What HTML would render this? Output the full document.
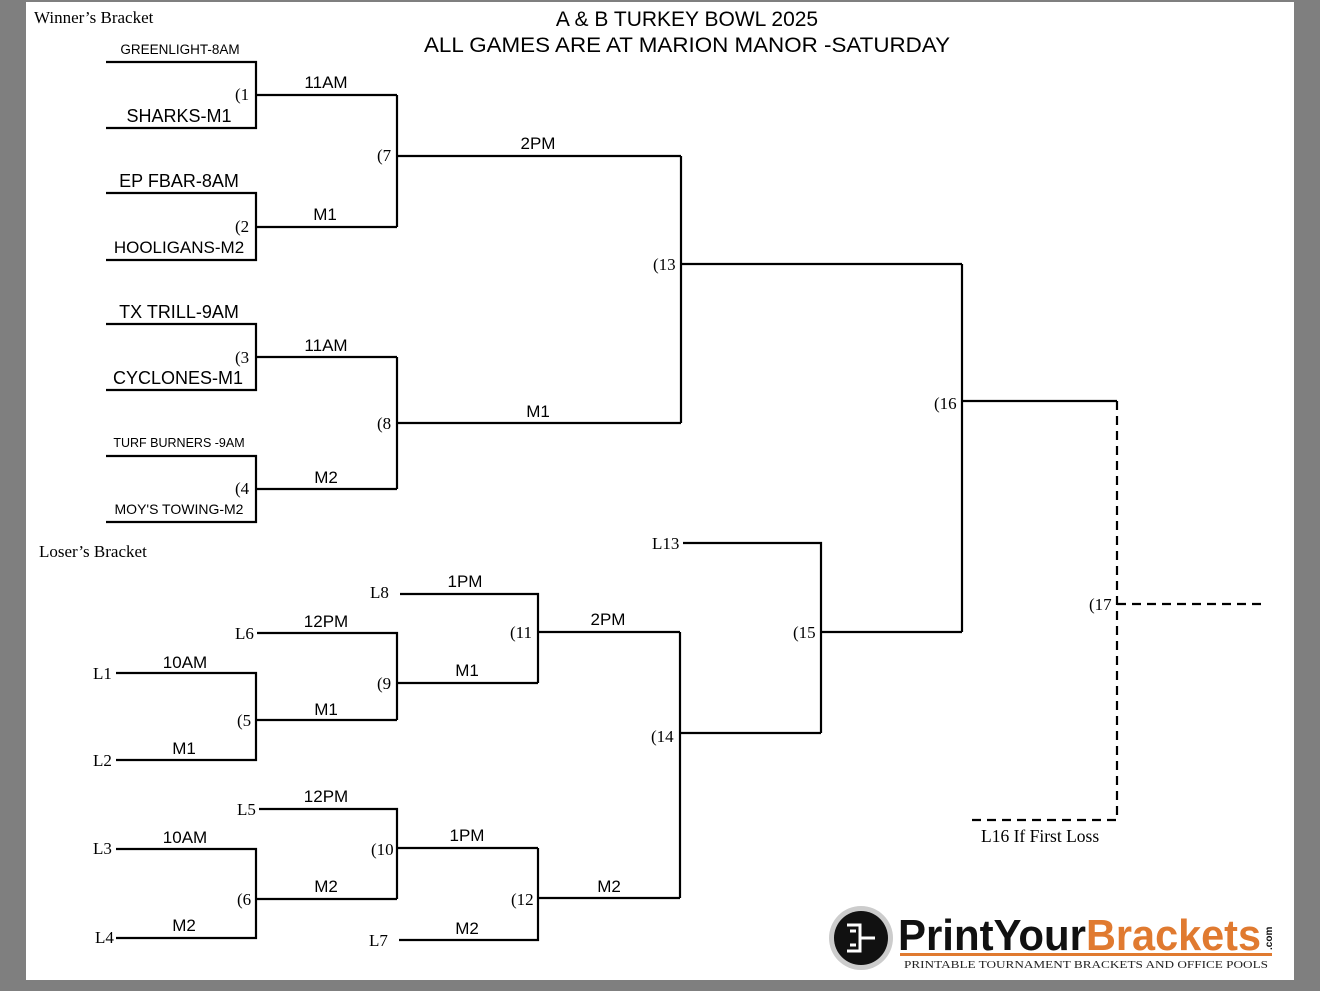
<!DOCTYPE html>
<html><head><meta charset="utf-8"><style>
html,body{margin:0;padding:0;background:#7f7f7f;}
svg{display:block}
.s{font-family:"Liberation Sans",sans-serif;fill:#000}
.r{font-family:"Liberation Serif",serif;fill:#000;font-size:17px}
</style></head><body>
<svg width="1320" height="991" viewBox="0 0 1320 991">
<rect x="0" y="0" width="1320" height="991" fill="#7f7f7f"/>
<rect x="26" y="2" width="1268" height="978" fill="#fff"/>
<g stroke="#000" stroke-width="2.2" fill="none">
<path d="M106 62H256V128H106M256 95H397"/>
<path d="M106 193H256V260H106M256 227H397"/>
<path d="M397 95V227M397 156H681"/>
<path d="M106 324H256V390H106M256 357H397"/>
<path d="M106 456H256V522H106M256 489H397"/>
<path d="M397 357V489M397 423H681"/>
<path d="M681 156V423M681 264H962"/>
<path d="M683 543H821V733M821 632H962"/>
<path d="M962 264V632M962 401H1117"/>
<path d="M116 673H256V760H116M256 720H397"/>
<path d="M257 633H397V720M397 683H538"/>
<path d="M400 594H538V683M538 632H680"/>
<path d="M116 849H256V938H116M256 899H397"/>
<path d="M259 809H397V899M397 848H538"/>
<path d="M399 940H538V848M538 898H680"/>
<path d="M680 632V898M680 733H821"/>
<path d="M1117 401V820H966M1117 604H1262" stroke-dasharray="9,6"/>
</g>
<text class="r" x="34" y="23" font-size="18.5">Winner’s Bracket</text>
<text class="r" x="39" y="557" font-size="18.5">Loser’s Bracket</text>
<text class="s" x="687" y="26" font-size="21" text-anchor="middle">A &amp; B TURKEY BOWL 2025</text>
<text class="s" x="687" y="52" font-size="21" text-anchor="middle" textLength="526" lengthAdjust="spacingAndGlyphs">ALL GAMES ARE AT MARION MANOR -SATURDAY</text>
<g class="s" text-anchor="middle">
<text x="180" y="54" font-size="13.5">GREENLIGHT-8AM</text>
<text x="179" y="122" font-size="18">SHARKS-M1</text>
<text x="179" y="187" font-size="18">EP FBAR-8AM</text>
<text x="179" y="253" font-size="17">HOOLIGANS-M2</text>
<text x="179" y="318" font-size="18">TX TRILL-9AM</text>
<text x="178" y="384" font-size="18">CYCLONES-M1</text>
<text x="179" y="447" font-size="12.5">TURF BURNERS -9AM</text>
<text x="179" y="514" font-size="14">MOY'S TOWING-M2</text>
<text x="326" y="88" font-size="17">11AM</text>
<text x="325" y="220" font-size="17">M1</text>
<text x="326" y="351" font-size="17">11AM</text>
<text x="326" y="483" font-size="17">M2</text>
<text x="538" y="149" font-size="17">2PM</text>
<text x="538" y="417" font-size="17">M1</text>
<text x="465" y="587" font-size="17">1PM</text>
<text x="326" y="627" font-size="17">12PM</text>
<text x="185" y="668" font-size="17">10AM</text>
<text x="467" y="676" font-size="17">M1</text>
<text x="326" y="715" font-size="17">M1</text>
<text x="184" y="754" font-size="17">M1</text>
<text x="608" y="625" font-size="17">2PM</text>
<text x="326" y="802" font-size="17">12PM</text>
<text x="185" y="843" font-size="17">10AM</text>
<text x="467" y="841" font-size="17">1PM</text>
<text x="326" y="892" font-size="17">M2</text>
<text x="609" y="892" font-size="17">M2</text>
<text x="184" y="931" font-size="17">M2</text>
<text x="467" y="934" font-size="17">M2</text>
</g>
<g class="r">
<text x="235" y="100">(1</text>
<text x="377" y="161">(7</text>
<text x="235" y="232">(2</text>
<text x="235" y="363">(3</text>
<text x="377" y="429">(8</text>
<text x="235" y="494">(4</text>
<text x="653" y="270">(13</text>
<text x="934" y="409">(16</text>
<text x="652" y="549">L13</text>
<text x="793" y="638">(15</text>
<text x="651" y="742">(14</text>
<text x="1089" y="610">(17</text>
<text x="981" y="842" font-size="17.5">L16 If First Loss</text>
<text x="370" y="598">L8</text>
<text x="235" y="639">L6</text>
<text x="510" y="638">(11</text>
<text x="93" y="679">L1</text>
<text x="377" y="689">(9</text>
<text x="237" y="726">(5</text>
<text x="93" y="766">L2</text>
<text x="237" y="815">L5</text>
<text x="93" y="854">L3</text>
<text x="371" y="855">(10</text>
<text x="237" y="905">(6</text>
<text x="511" y="905">(12</text>
<text x="95" y="943">L4</text>
<text x="369" y="946">L7</text>
</g>
<g>
<circle cx="861" cy="938" r="32" fill="#ccc"/>
<circle cx="861" cy="938" r="27" fill="#111"/>
<path d="M847 925H860V951H847M860 938H875M850 931H856M850 945H856" stroke="#fff" stroke-width="3" fill="none"/>
<text x="898" y="950" font-family="Liberation Sans,sans-serif" font-weight="bold" font-size="44" fill="#111" textLength="188" lengthAdjust="spacingAndGlyphs">PrintYour</text>
<text x="1086" y="950" font-family="Liberation Sans,sans-serif" font-weight="bold" font-size="44" fill="#e07a30" textLength="175" lengthAdjust="spacingAndGlyphs">Brackets</text>
<text x="1272" y="950" font-family="Liberation Sans,sans-serif" font-weight="bold" font-size="10" fill="#111" transform="rotate(-90 1272 950)">.com</text>
<rect x="900" y="953" width="372" height="3" fill="#e07a30"/>
<text x="904" y="968" font-family="Liberation Serif,serif" font-size="11" fill="#222" textLength="364" lengthAdjust="spacingAndGlyphs">PRINTABLE TOURNAMENT BRACKETS AND OFFICE POOLS</text>
</g>
</svg>
</body></html>
